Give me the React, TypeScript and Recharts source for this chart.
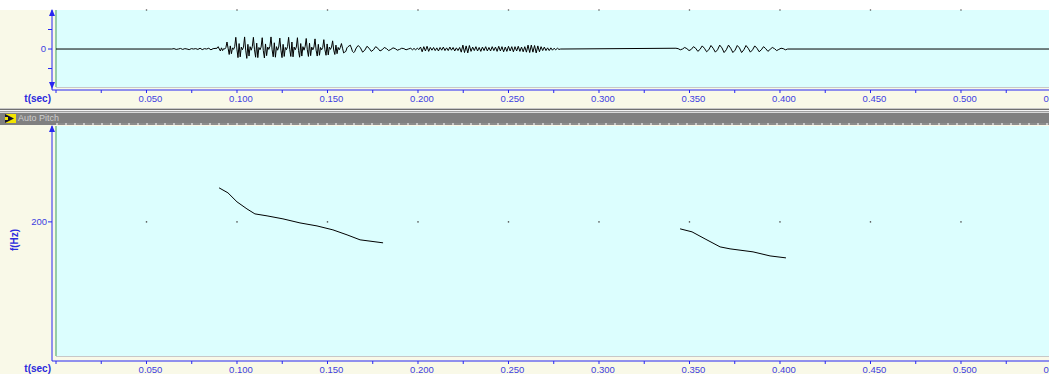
import React from "react";
import { LineChart, Line, XAxis, YAxis, ReferenceDot } from "recharts";

// ---------- data ----------
const xTicks = [0, 0.025, 0.05, 0.075, 0.1, 0.125, 0.15, 0.175, 0.2, 0.225, 0.25, 0.275, 0.3, 0.325, 0.35, 0.375, 0.4, 0.425, 0.45, 0.475, 0.5, 0.525, 0.55];
const gridTimes = [0.05, 0.1, 0.15, 0.2, 0.25, 0.3, 0.35, 0.4, 0.45, 0.5];
const waveTicks = [-0.5, 0, 0.5];
const pitchTicks = [200];

// waveform segments: start time (s), sample step (s), amplitudes
const preStart = 0.064;
const preStep = 0.0012;
const preAmps = [0, 0.01, -0.01, 0, 0.015, -0.01, 0.01, 0, -0.015, 0.01, 0, 0.01, -0.01, 0.02, -0.015, 0.01, 0, 0.02, -0.02, 0.01];

const voiced1Start = 0.089;
const voiced1Step = 0.000608;
const voiced1Amps = [
  0.02, 0.06, 0.0, -0.05, 0.03, -0.04, 0.01, 0.0,
  0.04, 0.18, 0.02, -0.14, 0.08, -0.12, 0.03, -0.01,
  0.06, 0.30, 0.0, -0.22, 0.14, -0.20, 0.05, -0.02,
  0.05, 0.31, -0.03, -0.24, 0.12, -0.18, 0.06, -0.03,
  0.06, 0.30, -0.02, -0.21, 0.15, -0.22, 0.04, -0.02,
  0.05, 0.29, -0.04, -0.23, 0.13, -0.17, 0.05, -0.01,
  0.07, 0.31, -0.02, -0.20, 0.16, -0.21, 0.06, -0.03,
  0.05, 0.28, -0.03, -0.22, 0.12, -0.19, 0.04, -0.02,
  0.06, 0.30, -0.01, -0.19, 0.18, -0.20, 0.05, -0.02,
  0.05, 0.29, -0.04, -0.21, 0.14, -0.18, 0.06, -0.03,
  0.06, 0.27, -0.02, -0.19, 0.15, -0.17, 0.05, -0.02,
  0.05, 0.26, -0.03, -0.18, 0.12, -0.16, 0.04, -0.02,
  0.04, 0.24, -0.02, -0.16, 0.13, -0.15, 0.05, -0.01,
  0.05, 0.21, -0.03, -0.14, 0.10, -0.12, 0.04, -0.02,
  0.04, 0.14, 0.02, -0.10, -0.08, -0.06, 0.03, 0.06,
  0.08, 0.10, 0.03, -0.06, -0.09, -0.07, 0.0, 0.05,
];

const decayStart = 0.167;
const decayStep = 0.0012;
const decayAmps = [0.09, 0.03, -0.08, -0.03, 0.07, 0.02, -0.06, -0.02, 0.06, 0.02, -0.05, -0.02, 0.04, 0.01, -0.04, -0.01, 0.03, 0.01, -0.03, -0.01, 0.02, 0.01, -0.02, 0];

const noiseStart = 0.196;
const noiseStep = 0.0009;
const noiseAmps = [
  0.02, -0.02, 0.015, -0.02, 0.02, -0.015,
  0.05, -0.07, 0.06, -0.05, 0.07, -0.06, 0.04,
  -0.03, 0.04, -0.04, 0.03, -0.05, 0.04, -0.03, 0.05, -0.04, 0.03, -0.04, 0.05, -0.03, 0.04, -0.05, 0.03, -0.04, 0.04,
  -0.08, 0.1, -0.09, 0.08, -0.1, 0.09, -0.06,
  0.05, -0.04, 0.06, -0.05, 0.04, -0.06, 0.05, -0.04, 0.06, -0.05, 0.04, -0.05, 0.06, -0.04, 0.05,
  -0.06, 0.07, -0.05, 0.06, -0.07, 0.05, -0.06, 0.07, -0.05, 0.06, -0.07, 0.06, -0.05, 0.07, -0.06, 0.05, -0.07, 0.06,
  -0.08, 0.1, -0.09, 0.1, -0.08, 0.09, -0.1, 0.08, -0.07, 0.06,
  -0.04, 0.05, -0.04, 0.03, -0.04, 0.03, -0.03, 0.02, -0.02, 0.02,
  -0.01, 0,
];

const voiced2Start = 0.3425;
const voiced2Step = 0.00121;
const voiced2Amps = [
  0.02, 0.01, -0.02, 0, 0.04, 0.01, -0.04, -0.01, 0.06, 0.02, -0.06, -0.01,
  0.08, 0.02, -0.07, -0.02, 0.09, 0.02, -0.08, -0.02, 0.10, 0.03, -0.09, -0.02,
  0.10, 0.02, -0.09, -0.03, 0.09, 0.03, -0.09, -0.02, 0.09, 0.02, -0.08, -0.02,
  0.08, 0.02, -0.07, -0.02, 0.06, 0.01, -0.06, -0.01, 0.04, 0.01, -0.04, -0.01,
  0.02, 0.01, -0.02, 0,
];

const pitch1T = [0.0901, 0.095, 0.1, 0.1055, 0.1099, 0.1166, 0.1254, 0.1348, 0.1442, 0.153, 0.1608, 0.168, 0.1807];
const pitch1Hz = [236.2, 230.9, 221.3, 213.8, 208.5, 206.4, 203.2, 198.9, 195.7, 191.5, 186.2, 180.9, 177.7];
const pitch2T = [0.3448, 0.3514, 0.3586, 0.3669, 0.3724, 0.3851, 0.3945, 0.4033];
const pitch2Hz = [192.6, 189.4, 181.9, 173.4, 171.3, 168.1, 163.8, 161.7];

// ---------- build tables ----------
const seg = (start: number, step: number, amps: number[]) => amps.map((a, i) => ({ t: start + i * step, a }));
const waveData = [
  { t: 0, a: 0 },
  ...seg(preStart, preStep, preAmps),
  ...seg(voiced1Start, voiced1Step, voiced1Amps),
  ...seg(decayStart, decayStep, decayAmps),
  ...seg(noiseStart, noiseStep, noiseAmps),
  ...seg(voiced2Start, voiced2Step, voiced2Amps),
  { t: 0.55, a: 0 },
];
const pitch1 = pitch1T.map((t, i) => ({ t, hz: pitch1Hz[i] }));
const pitch2 = pitch2T.map((t, i) => ({ t, hz: pitch2Hz[i] }));

// ---------- style ----------
const BLUE = "#2626F2";
const TXT = "#4040E0";
const FONT = "'Liberation Sans', Arial, sans-serif";
const X_DOMAIN: [number, number] = [-0.00221, 0.55028];

const XTick = (p: any) => {
  const v = p.payload.value;
  const m = Math.round(v * 1000);
  if (m === 0 || m % 50 !== 0) return <g />;
  return (
    <text x={p.x + 4} y={p.y} dy="0.71em" textAnchor="middle" fill={TXT} fontSize={9.5} fontFamily={FONT}>
      {v.toFixed(3)}
    </text>
  );
};

const YTickWave = (p: any) => {
  if (p.payload.value !== 0) return <g />;
  return (
    <text x={p.x} y={p.y} dy="0.355em" textAnchor="end" fill={TXT} fontSize={9.5} fontFamily={FONT}>
      0
    </text>
  );
};

const YTickPitch = (p: any) => (
  <text x={p.x} y={p.y} dy="0.355em" textAnchor="end" fill={TXT} fontSize={9.5} fontFamily={FONT}>
    {p.payload.value}
  </text>
);

const abs = (s: React.CSSProperties): React.CSSProperties => ({ position: "absolute", ...s });

export default function App() {
  return (
    <div style={{ position: "fixed", left: 0, top: 0, width: 1049, height: 374, background: "#F9F9E8", overflow: "hidden", fontFamily: FONT }}>
      {/* backgrounds */}
      <div style={abs({ left: 0, top: 0, width: 1049, height: 10, background: "#FFFFFF" })} />
      <div style={abs({ left: 56, top: 10, width: 993, height: 77, background: "#DCFEFE" })} />
      <div style={abs({ left: 56, top: 87, width: 993, height: 1, background: "#C8C8C8" })} />
      <div style={abs({ left: 55, top: 10, width: 2, height: 77, background: "#96CCA6" })} />

      <div style={abs({ left: 0, top: 108, width: 1049, height: 1, background: "#C8C8C8" })} />
      <div style={abs({ left: 0, top: 109, width: 1049, height: 1, background: "#707070" })} />
      <div style={abs({ left: 0, top: 110, width: 1049, height: 1, background: "#F4F4F4" })} />
      <div style={abs({ left: 0, top: 111, width: 1049, height: 1, background: "#A0A0A0" })} />
      <div style={abs({ left: 0, top: 112, width: 1049, height: 1, background: "#D8D8D8" })} />
      <div style={abs({ left: 0, top: 113, width: 1049, height: 12, background: "#808080" })} />
      <div style={abs({ left: 56, top: 123, width: 993, height: 2, background: "repeating-linear-gradient(90deg, #C8C8C8 0px, #C8C8C8 2px, #8C8C8C 2px, #8C8C8C 9px)" })} />
      <svg style={abs({ left: 5, top: 114, width: 12, height: 10 })} width={12} height={10}>
        <rect x={0} y={0} width={11} height={9} fill="#F2E400" />
        <polygon points="0,0 9,4.5 0,9" fill="#101030" />
        <rect x={0} y={3} width={3} height={3} fill="#F2E400" />
      </svg>
      <div style={abs({ left: 18, top: 112, fontSize: 9, lineHeight: "12px", color: "#CFCFCF" })}>Auto Pitch</div>

      <div style={abs({ left: 56, top: 126, width: 993, height: 230, background: "#DCFEFE" })} />
      <div style={abs({ left: 56, top: 356, width: 993, height: 1, background: "#C8C8C8" })} />
      <div style={abs({ left: 55, top: 126, width: 2, height: 230, background: "#96CCA6" })} />

      {/* waveform chart */}
      <div style={abs({ left: 0, top: 0 })}>
        <LineChart width={1100} height={120} data={waveData} margin={{ top: 10, right: 48, bottom: 0, left: 0 }}>
          <XAxis dataKey="t" type="number" domain={X_DOMAIN} allowDataOverflow ticks={xTicks} interval={0} tickSize={3} tickMargin={2} height={30}
            axisLine={{ stroke: BLUE }} tickLine={{ stroke: BLUE }} tick={XTick} />
          <YAxis type="number" domain={[-1.05, 1]} allowDataOverflow ticks={waveTicks} interval={0} tickSize={4} tickMargin={2} width={52}
            axisLine={{ stroke: BLUE }} tickLine={{ stroke: BLUE }} tick={YTickWave} />
          {gridTimes.map((g) => (
            <ReferenceDot key={g} x={g} y={1} r={0.8} fill="#555" stroke="none" ifOverflow="visible" />
          ))}
          <Line type="linear" dataKey="a" stroke="#000" strokeWidth={1} dot={false} isAnimationActive={false} />
        </LineChart>
      </div>

      {/* pitch chart */}
      <div style={abs({ left: 0, top: 100 })}>
        <LineChart width={1100} height={274} margin={{ top: 26, right: 48, bottom: 0, left: 0 }}>
          <XAxis dataKey="t" type="number" domain={X_DOMAIN} allowDataOverflow ticks={xTicks} interval={0} tickSize={3} tickMargin={2} height={13}
            axisLine={{ stroke: BLUE }} tickLine={{ stroke: BLUE }} tick={XTick} />
          <YAxis type="number" domain={[52, 302]} allowDataOverflow ticks={pitchTicks} interval={0} tickSize={4} tickMargin={1} width={52}
            axisLine={{ stroke: BLUE }} tickLine={{ stroke: BLUE }} tick={YTickPitch} />
          {gridTimes.map((g) => (
            <ReferenceDot key={g} x={g} y={200} r={0.8} fill="#555" stroke="none" ifOverflow="visible" />
          ))}
          <Line data={pitch1} type="linear" dataKey="hz" stroke="#000" strokeWidth={1} dot={false} isAnimationActive={false} />
          <Line data={pitch2} type="linear" dataKey="hz" stroke="#000" strokeWidth={1} dot={false} isAnimationActive={false} />
        </LineChart>
      </div>

      {/* axis arrows */}
      <svg style={abs({ left: 0, top: 0, width: 70, height: 374, pointerEvents: "none" })} width={70} height={374}>
        <polygon points="52,9 49,16 55,16" fill={BLUE} />
        <polygon points="52,89 49,82 55,82" fill={BLUE} />
        <polygon points="52,125 49,132 55,132" fill={BLUE} />
      </svg>

      {/* axis titles */}
      <div style={abs({ left: 20, top: 93, width: 31, textAlign: "right", fontSize: 10, lineHeight: "12px", fontWeight: "bold", color: "#2A2ADD" })}>t(sec)</div>
      <div style={abs({ left: 20, top: 363, width: 31, textAlign: "right", fontSize: 10, lineHeight: "12px", fontWeight: "bold", color: "#2A2ADD" })}>t(sec)</div>
      <div style={abs({ left: 1, top: 234, width: 28, height: 12, textAlign: "center", fontSize: 10, lineHeight: "12px", fontWeight: "bold", color: "#2A2ADD", transform: "rotate(-90deg)" })}>f(Hz)</div>
    </div>
  );
}
